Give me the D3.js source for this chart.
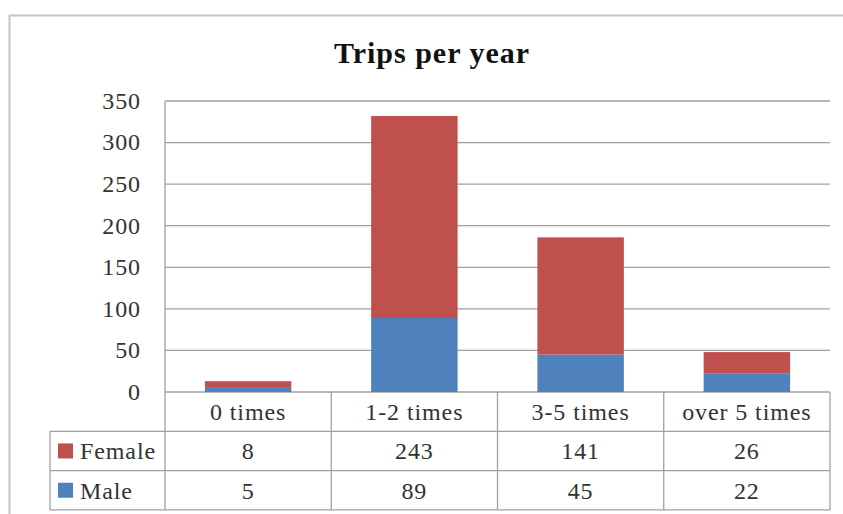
<!DOCTYPE html>
<html lang="en">
<head>
    <meta charset="UTF-8">
    <title>Trips per year</title>
    <style>
        body { margin: 0; background: #fff; }
        text { font-family: "Liberation Serif", "Times New Roman", serif; }
        .lbl { font-size: 24px; letter-spacing: 0.9px; fill: #333; }
    </style>
</head>
<body>
    <div id="chart"></div>
    <script src="https://d3js.org/d3.v7.min.js"></script>
    <script>
        var categories = ["0 times", "1-2 times", "3-5 times", "over 5 times"];
        var seriesNames = ["Male", "Female"];
        var maleValues = [5, 89, 45, 22];
        var femaleValues = [8, 243, 141, 26];
        var yTicks = [0, 50, 100, 150, 200, 250, 300, 350];

        var colors = { Male: "#4F81BD", Female: "#C0504D" };

        var W = 843, H = 514;
        var plot = { left: 165, right: 830, top: 101, bottom: 392 };
        var rowH = 39.3, tableLeft = 50;

        var svg = d3.select('#chart')
            .append('svg')
                .attr('width', W)
                .attr('height', H);

        // outer chart border
        svg.append('rect')
            .attr('x', 9.5).attr('y', 15.5)
            .attr('width', W + 20).attr('height', H + 20)
            .attr('fill', 'none')
            .attr('stroke', '#c4c4c4')
            .attr('stroke-width', 2);

        svg.append('text')
            .attr('x', 432).attr('y', 63)
            .attr('text-anchor', 'middle')
            .style('font-size', '30px')
            .style('letter-spacing', '1px')
            .style('font-weight', 'bold')
            .style('fill', '#111')
            .text('Trips per year');

        var x = d3.scaleBand()
            .domain(categories)
            .range([plot.left, plot.right])
            .padding(0);

        var y = d3.scaleLinear()
            .domain([0, 350])
            .range([plot.bottom, plot.top]);

        // gridlines
        svg.append('g')
            .selectAll('line')
            .data(yTicks)
            .enter().append('line')
                .attr('x1', plot.left).attr('x2', plot.right)
                .attr('y1', d => y(d)).attr('y2', d => y(d))
                .attr('stroke', '#a0a0a0')
                .attr('stroke-width', 1.3);

        // y labels
        svg.append('g')
            .selectAll('text')
            .data(yTicks)
            .enter().append('text')
                .attr('class', 'lbl')
                .attr('x', 141)
                .attr('y', d => y(d))
                .attr('dy', '0.33em')
                .attr('text-anchor', 'end')
                .text(d => d);

        // stacked bars
        var rows = categories.map(function (c, i) {
            return { cat: c, Male: maleValues[i], Female: femaleValues[i] };
        });
        var stacked = d3.stack().keys(seriesNames)(rows);
        var barW = x.bandwidth() * 0.52;

        svg.append('g')
            .selectAll('g')
            .data(stacked)
            .enter().append('g')
                .attr('fill', d => colors[d.key])
            .selectAll('rect')
            .data(d => d)
            .enter().append('rect')
                .attr('x', d => x(d.data.cat) + (x.bandwidth() - barW) / 2)
                .attr('y', d => y(d[1]))
                .attr('width', barW)
                .attr('height', d => y(d[0]) - y(d[1]));

        // data table
        var tbl = svg.append('g')
            .attr('stroke', '#a0a0a0')
            .attr('stroke-width', 1.3);
        var tableBottom = plot.bottom + rowH * 3;

        tbl.append('line')
            .attr('x1', plot.left).attr('x2', plot.left)
            .attr('y1', plot.top).attr('y2', tableBottom);
        tbl.append('line')
            .attr('x1', tableLeft).attr('x2', tableLeft)
            .attr('y1', plot.bottom + rowH).attr('y2', tableBottom);
        tbl.selectAll('.col')
            .data(categories)
            .enter().append('line')
                .attr('x1', d => x(d) + x.bandwidth()).attr('x2', d => x(d) + x.bandwidth())
                .attr('y1', plot.bottom).attr('y2', tableBottom);
        tbl.selectAll('.row')
            .data([1, 2, 3])
            .enter().append('line')
                .attr('x1', tableLeft).attr('x2', plot.right)
                .attr('y1', d => plot.bottom + rowH * d).attr('y2', d => plot.bottom + rowH * d);

        // header row
        svg.append('g')
            .selectAll('text')
            .data(categories)
            .enter().append('text')
                .attr('class', 'lbl')
                .attr('x', d => x(d) + x.bandwidth() / 2)
                .attr('y', plot.bottom + rowH / 2)
                .attr('dy', '0.35em')
                .attr('text-anchor', 'middle')
                .text(d => d);

        var tableRows = [
            { name: "Female", values: femaleValues },
            { name: "Male", values: maleValues }
        ];

        tableRows.forEach(function (r, ri) {
            var cy = plot.bottom + rowH * (ri + 1.5);
            svg.append('rect')
                .attr('x', 58).attr('y', cy - 7.5)
                .attr('width', 15).attr('height', 15)
                .attr('fill', colors[r.name]);
            svg.append('text')
                .attr('class', 'lbl')
                .attr('x', 80).attr('y', cy)
                .attr('dy', '0.35em')
                .text(r.name);
            svg.append('g')
                .selectAll('text')
                .data(r.values)
                .enter().append('text')
                    .attr('class', 'lbl')
                    .attr('x', (d, i) => x(categories[i]) + x.bandwidth() / 2)
                    .attr('y', cy)
                    .attr('dy', '0.35em')
                    .attr('text-anchor', 'middle')
                    .text(d => d);
        });
    </script>
</body>
</html>
